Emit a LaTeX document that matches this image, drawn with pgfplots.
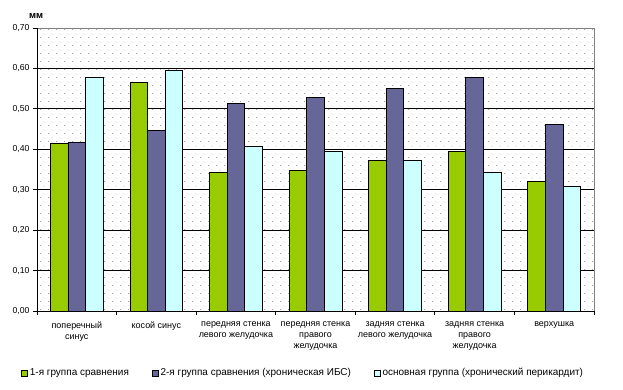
\documentclass[border=0pt]{standalone}
\usepackage{pgfplots}
\pgfplotsset{compat=1.18}
\usepackage{fontspec}
\setmainfont{Liberation Sans}
\usetikzlibrary{patterns}
\definecolor{cgreen}{HTML}{99CC00}
\definecolor{cblue}{HTML}{666699}
\definecolor{ccyan}{HTML}{CCFFFF}
\definecolor{dotgray}{HTML}{A0A0A0}
\pgfdeclarepatternformonly{mydots}{\pgfpointorigin}{\pgfpoint{8bp}{8bp}}{\pgfpoint{8bp}{8bp}}{%
  \pgfpathrectangle{\pgfpoint{0bp}{0bp}}{\pgfpoint{1bp}{1bp}}%
  \pgfpathrectangle{\pgfpoint{4bp}{4bp}}{\pgfpoint{1bp}{1bp}}%
  \pgfusepath{fill}}
\begin{document}
\begin{tikzpicture}
\begin{axis}[
  at={(0,0)}, anchor=south west,
  scale only axis,
  width=557bp, height=283bp,
  ybar=0pt, bar width=17.6bp,
  xmin=-0.5, xmax=6.5,
  ymin=0, ymax=0.7,
  ytick={0,0.1,...,0.71},
  xtick={0,...,6},
  xticklabels={{поперечный\\синус},{косой синус},{передняя стенка\\левого желудочка},{передняя стенка\\правого\\желудочка},{задняя стенка\\левого желудочка},{задняя стенка\\правого\\желудочка},{верхушка}},
  xticklabel style={align=center, font=\fontsize{9}{11.3}\selectfont, yshift=-3bp},
  yticklabel style={font=\fontsize{8.7}{11}\selectfont},
  major x tick style={draw=none},
  minor xtick={-0.5,0.5,...,6.6},
  minor tick length=4bp,
  major tick length=4bp,
  tick align=outside,
  xtick pos=bottom, ytick pos=left,
  tick style={black, line width=0.8pt},
  ymajorgrids,
  major grid style={black, line width=0.8pt},
  axis line style={draw=none},
  y tick label style={/pgf/number format/.cd, use comma, fixed, fixed zerofill, precision=2, assume math mode=true},
  axis background/.style={pattern=mydots, pattern color=dotgray},
  legend columns=3,
  legend style={draw=none, at={(-0.0287,-0.219)}, anchor=west, inner sep=0pt,
    font=\fontsize{10}{12}\selectfont,
    /tikz/every even column/.append style={column sep=21bp}},
  legend image code/.code={\draw[#1,draw=black,line width=0.7pt] (0bp,-3bp) rectangle (6bp,3bp);},
  every axis plot/.append style={draw=black, line width=0.8pt},
  clip=false,
]
\draw[gray, line width=0.8pt] (rel axis cs:0,1) -- (rel axis cs:1,1) -- (rel axis cs:1,0);
\addplot[fill=cgreen] coordinates {(0,0.414) (1,0.565) (2,0.343) (3,0.348) (4,0.372) (5,0.394) (6,0.320)};
\addplot[fill=cblue] coordinates {(0,0.417) (1,0.446) (2,0.513) (3,0.528) (4,0.550) (5,0.577) (6,0.461)};
\addplot[fill=ccyan] coordinates {(0,0.577) (1,0.595) (2,0.407) (3,0.394) (4,0.372) (5,0.343) (6,0.307)};
\legend{1-я группа сравнения, 2-я группа сравнения (хроническая ИБС), основная группа (хронический перикардит)}
\draw[black, line width=0.8pt] (rel axis cs:0,1) -- (rel axis cs:0,0) -- (rel axis cs:1,0);
\node[font=\bfseries\fontsize{9.5}{11}\selectfont, anchor=base west, inner sep=0pt] at ([xshift=-8bp,yshift=10bp]rel axis cs:0,1) {мм};
\end{axis}
\pgfresetboundingbox
\path[use as bounding box] (-37bp,-79bp) rectangle (586bp,311bp);
\end{tikzpicture}
\end{document}
